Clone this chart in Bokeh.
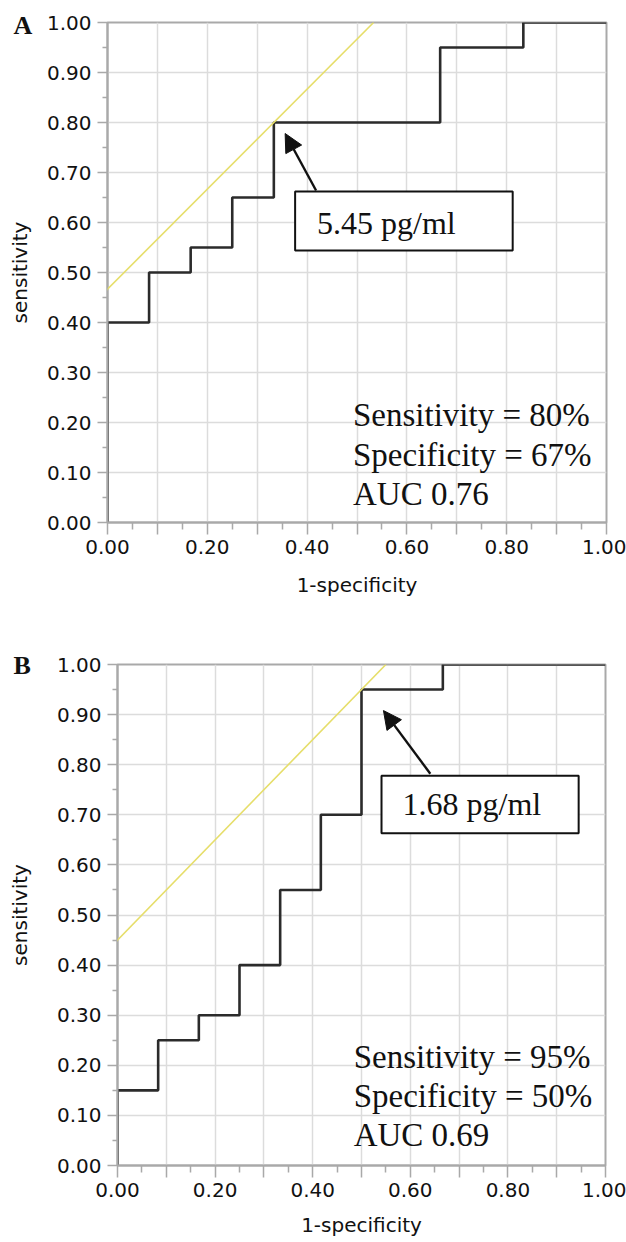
from bokeh.plotting import figure
from bokeh.models import Range1d, FixedTicker, Slope, Arrow, NormalHead
from bokeh.embed import file_html
from bokeh.resources import INLINE
from bokeh.core.properties import value

# ---------------- data ----------------
# ROC corner points (1-specificity, sensitivity), drawn as steps ("after")
fpr_a = [0.0, 0.0, 1/12, 2/12, 3/12, 4/12, 8/12, 10/12, 1.0]
tpr_a = [0.0, 0.40, 0.50, 0.55, 0.65, 0.80, 0.95, 1.00, 1.00]
fpr_b = [0.0, 0.0, 1/12, 2/12, 3/12, 4/12, 5/12, 6/12, 8/12, 1.0]
tpr_b = [0.0, 0.15, 0.25, 0.30, 0.40, 0.55, 0.70, 0.95, 1.00, 1.00]

# optimal cut-off points
cut_a = (4/12, 0.80)
cut_b = (6/12, 0.95)
cut_label_a = "5.45 pg/ml"
cut_label_b = "1.68 pg/ml"

stats_a = ["Sensitivity = 80%", "Specificity = 67%", "AUC 0.76"]
stats_b = ["Sensitivity = 95%", "Specificity = 50%", "AUC 0.69"]

panel_a = "A"
panel_b = "B"

major_ticks = [0.0, 0.1, 0.2, 0.3, 0.4, 0.5, 0.6, 0.7, 0.8, 0.9, 1.0]
minor_ticks = [0.05, 0.15, 0.25, 0.35, 0.45, 0.55, 0.65, 0.75, 0.85, 0.95]
y_tick_labels = ["0.00", "0.10", "0.20", "0.30", "0.40", "0.50",
                 "0.60", "0.70", "0.80", "0.90", "1.00"]
x_tick_labels = ["0.00", "", "0.20", "", "0.40", "", "0.60", "", "0.80", "", "1.00"]

x_title = "1-specificity"
y_title = "sensitivity"

AXIS_FONT = "DejaVu Sans"
SERIF = "Liberation Serif"
GRID = "#dcdcdc"
AXC = "#a9a9a9"
INK = "#111111"


def make_panel(fpr, tpr, cut, cut_label, stats, panel, lay):
    p = figure(frame_width=lay["fw"], frame_height=lay["fh"],
               min_border_left=lay["bl"], min_border_right=lay["br"],
               min_border_top=lay["bt"], min_border_bottom=lay["bb"],
               x_range=Range1d(0, 1), y_range=Range1d(0, 1),
               output_backend="svg", toolbar_location=None,
               background_fill_color="white", border_fill_color="white")
    p.outline_line_color = AXC
    p.outline_line_width = 2

    # panel letter as a left-aligned title pulled over the margin
    p.title.text = panel
    p.title.align = "left"
    p.title.offset = lay["t_off"]
    p.title.standoff = lay["t_stand"]
    p.title.text_font = SERIF
    p.title.text_font_style = "bold"
    p.title.text_font_size = "26px"
    p.title.text_color = INK

    tk = FixedTicker(ticks=major_ticks, minor_ticks=minor_ticks)
    p.xaxis.ticker = tk
    p.yaxis.ticker = tk
    p.xgrid.ticker = FixedTicker(ticks=major_ticks)
    p.ygrid.ticker = FixedTicker(ticks=major_ticks)
    for g in (p.xgrid, p.ygrid):
        g.grid_line_color = GRID
        g.grid_line_width = 1.5

    p.yaxis.major_label_overrides = {t: s for t, s in zip(major_ticks, y_tick_labels)}
    p.xaxis.major_label_overrides = {t: s for t, s in zip(major_ticks, x_tick_labels)}

    for ax in (p.xaxis, p.yaxis):
        ax.axis_line_color = AXC
        ax.axis_line_width = 2
        ax.major_tick_line_color = AXC
        ax.minor_tick_line_color = AXC
        ax.major_tick_line_width = 1.5
        ax.minor_tick_line_width = 1.5
        ax.major_tick_in = 0
        ax.minor_tick_in = 0
        ax.major_label_text_font = AXIS_FONT
        ax.major_label_text_font_size = "20px"
        ax.major_label_text_color = INK
        ax.axis_label_text_font = AXIS_FONT
        ax.axis_label_text_font_size = "20px"
        ax.axis_label_text_font_style = "normal"
        ax.axis_label_text_color = INK
    p.xaxis.major_tick_out = 12
    p.xaxis.minor_tick_out = 7
    p.yaxis.major_tick_out = 10
    p.yaxis.minor_tick_out = 5
    p.xaxis.major_label_standoff = 5
    p.yaxis.major_label_standoff = 6
    p.xaxis.axis_label = x_title
    p.yaxis.axis_label = y_title
    p.xaxis.axis_label_standoff = lay["xls"]
    p.yaxis.axis_label_standoff = lay["yls"]

    # iso-Youden line through the cut-off point (slope 1)
    p.add_layout(Slope(gradient=1, y_intercept=cut[1] - cut[0],
                       line_color="#e6de6a", line_width=1.6))

    # ROC step curve
    p.step(fpr, tpr, mode="after", line_color="#2b2b2b", line_width=2.6)

    # cut-off annotation box + arrow
    b = lay["box"]
    p.quad(left=[b[0]], right=[b[1]], top=[b[2]], bottom=[b[3]],
           fill_color="white", line_color=INK, line_width=2)
    p.text(x=[lay["box_tx"]], y=[lay["box_ty"]], text=[cut_label],
           text_font=value(SERIF), text_font_size="32px",
           text_baseline="alphabetic", text_align="left", text_color=INK)
    a = lay["arrow"]
    p.add_layout(Arrow(end=NormalHead(size=18, fill_color=INK, line_color=INK),
                       x_start=a[0], y_start=a[1], x_end=a[2], y_end=a[3],
                       line_color=INK, line_width=2.4))

    # statistics text
    p.text(x=[lay["st_x"]] * len(stats), y=lay["st_y"], text=stats,
           text_font=value(SERIF), text_font_size="33px",
           text_baseline="alphabetic", text_align="left", text_color=INK)
    return p


lay_a = dict(fw=499, fh=500, bl=107, br=20, bt=22, bb=98, xls=16, yls=12,
             box=(0.376, 0.812, 0.662, 0.544), box_tx=0.42, box_ty=0.600,
             arrow=(0.418, 0.664, 0.356, 0.778),
             st_x=0.492, st_y=[0.216, 0.136, 0.058],
             t_off=-94, t_stand=-35)
lay_b = dict(fw=488, fh=501, bl=117, br=21, bt=44, bb=77, xls=13, yls=22,
             box=(0.541, 0.945, 0.778, 0.663), box_tx=0.584, box_ty=0.721,
             arrow=(0.641, 0.782, 0.545, 0.908),
             st_x=0.484, st_y=[0.216, 0.138, 0.060],
             t_off=-104, t_stand=-30)

pa = make_panel(fpr_a, tpr_a, cut_a, cut_label_a, stats_a, panel_a, lay_a)
pb = make_panel(fpr_b, tpr_b, cut_b, cut_label_b, stats_b, panel_b, lay_b)

open("out.html", "w").write(file_html([pa, pb], INLINE))
